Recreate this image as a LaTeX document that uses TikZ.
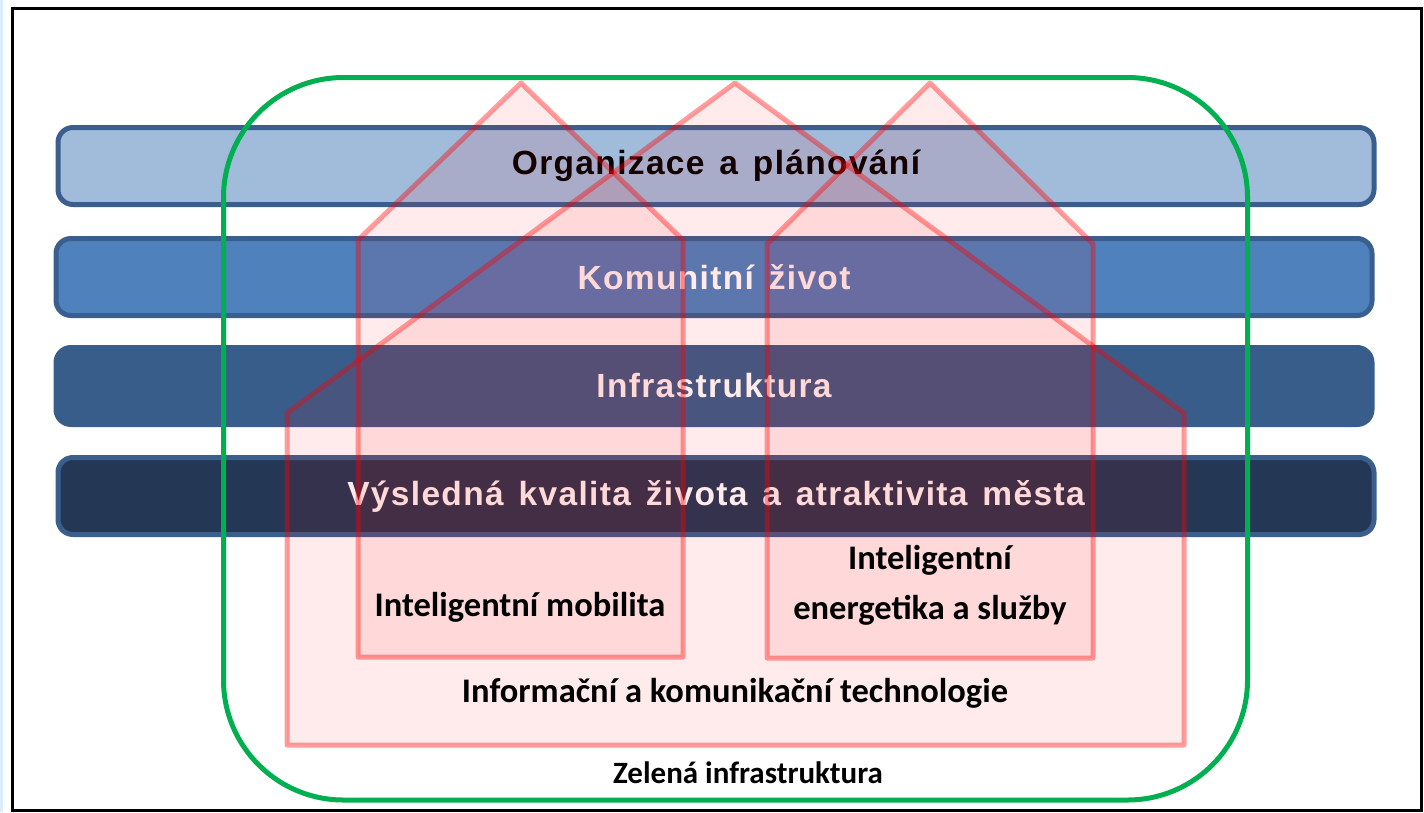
\documentclass[tikz,border=0pt]{standalone}
\usepackage{fontspec}
\newfontfamily\bandfont{Liberation Sans}[LetterSpace=4,WordSpace=1.4]
\newfontfamily\labelfont{Carlito}
\definecolor{bandA}{HTML}{A1BBDA}
\definecolor{bandB}{HTML}{4F81BD}
\definecolor{bandC}{HTML}{385D8A}
\definecolor{bandD}{HTML}{243754}
\definecolor{bandline}{HTML}{3A5F8F}
\definecolor{zelena}{HTML}{00B050}
\definecolor{edgeblue}{HTML}{DDEEFB}
\tikzset{
  band/.style={draw=bandline, line width=5pt, rounded corners=15pt, minimum width=1316pt,
    minimum height=77pt, inner sep=0pt, font=\bandfont\bfseries\fontsize{33.5}{40}\selectfont},
  lbl/.style={font=\labelfont\bfseries\fontsize{34.5}{50}\selectfont, align=center},
  roof/.style={draw=red, draw opacity=0.38, fill=red, fill opacity=0.08, line width=5pt, line join=round}
}
\def\house(#1,#2,#3,#4,#5){
  \draw[roof] (#1,#5) -- (#1,#3) -- (#4,83) -- (#2,#3) -- (#2,#5) -- cycle;
}

\begin{document}
\begin{tikzpicture}[x=1pt,y=-1pt]
\useasboundingbox (0,0) rectangle (1424,812);
\fill[edgeblue] (0,0) rectangle (3,812);
\draw[line width=3pt] (12,8) rectangle (1421,810.5);
\node[band, fill=bandA, text=black] (org) at (716,166) {Organizace a plánování};
\node[band, fill=bandB, text=white] (kom) at (714,277) {Komunitní život};
\node[band, fill=bandC, draw=bandC, text=white] (inf) at (714,386) {Infrastruktura};
\node[band, fill=bandD, text=white] (vys) at (716,496) {Výsledná kvalita života a atraktivita města};
% green infrastructure
\draw[zelena, line width=5pt, rounded corners=120pt] (223.5,77.5) rectangle (1247.5,800);
\house(287,1184,413,735,745)
\house(358,683,240,521,657)
\house(767,1093,244,930,658)
\node[lbl] (mob) at (520,607) {Inteligentní mobilita};
\node[lbl] (ene) at (930,585) {Inteligentní\\energetika a služby};
\node[lbl] (ikt) at (735,693) {Informační a komunikační technologie};
\node[lbl, font=\labelfont\bfseries\fontsize{31}{37}\selectfont] (zel) at (748,773) {Zelená infrastruktura};
\end{tikzpicture}
\end{document}
